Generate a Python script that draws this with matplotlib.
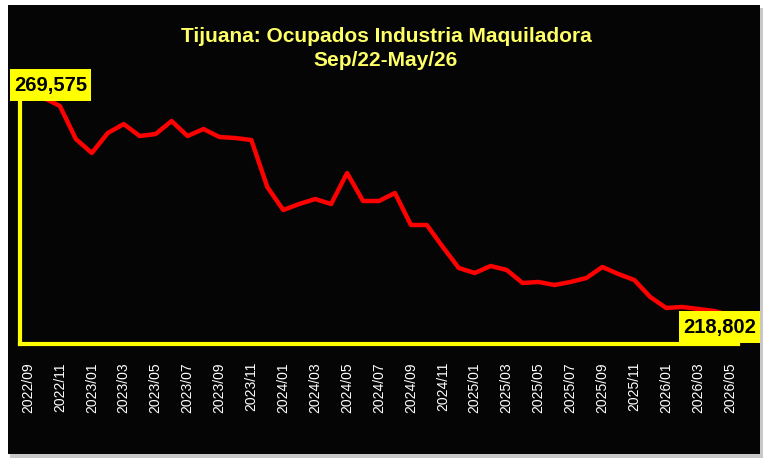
import numpy as np
import matplotlib
matplotlib.use("Agg")
import matplotlib.pyplot as plt
import matplotlib.patches as patches

# ── data (monthly, Sep/22 → May/26) ───────────────────────────────────────────
months = [f"{y}/{m:02d}" for y in range(2022, 2027) for m in range(1, 13)]
months = months[months.index("2022/09"):months.index("2026/05") + 1]

ocupados = [
    269575, 268900, 267040, 259420, 256190, 260800, 262880, 260110, 260570,
    263570, 260110, 261730, 259880, 259650, 259190, 248340, 243030, 244420,
    245570, 244420, 251570, 245110, 245110, 246960, 239570, 239570, 234490,
    229650, 228490, 230110, 229190, 226190, 226420, 225720, 226420, 227340,
    229880, 228260, 226880, 222950, 220420, 220650, 220190, 219720, 218802,
]
tick_labels = months[::2]

# ── palette ───────────────────────────────────────────────────────────────────
_BG = "#050505"
_YELLOW = "#FFFF00"
_TITLE = "#FFFF66"
_RED = "#FF0000"

W, H = 769, 468
fig = plt.figure(figsize=(W / 100, H / 100), dpi=100)
fig.patch.set_facecolor("white")


def _px_rect(x0, y0, x1, y1, **kw):
    """Rectangle given in pixel coords (origin top-left)."""
    return patches.Rectangle((x0 / W, 1 - y1 / H), (x1 - x0) / W, (y1 - y0) / H,
                             transform=fig.transFigure, **kw)


# black panel with a faint shadow
fig.patches.append(_px_rect(10, 8, 763, 458, facecolor="#C8C8C8",
                            edgecolor="none", zorder=-2))
fig.patches.append(_px_rect(8, 5, 760, 454, facecolor=_BG,
                            edgecolor="none", zorder=-1))

# plot area in pixel coords: x 20→738, y 72→344
ax = fig.add_axes([20 / W, 1 - 344 / H, 718 / W, 272 / H])
ax.set_zorder(1)
ax.set_facecolor("none")

x = np.arange(len(ocupados))
ax.plot(x, ocupados, color=_RED, linewidth=3.2, solid_joinstyle="round", zorder=3)

ax.set_xlim(-0.5, len(ocupados) - 0.5)
ax.set_ylim(212100, 274890)
ax.set_xticks(x[::2])
ax.set_xticklabels(tick_labels, rotation=90, color="white", fontsize=10,
                   family="Liberation Sans")
ax.tick_params(axis="x", length=0, pad=13)
ax.set_yticks([])

for side in ("top", "right"):
    ax.spines[side].set_visible(False)
for side in ("left", "bottom"):
    ax.spines[side].set_color(_YELLOW)
    ax.spines[side].set_linewidth(3)

# end-point value boxes (drawn over the axes)
for (x0, y0, x1, y1), val in (((10, 69, 91, 101), ocupados[0]),
                              ((679, 311, 760, 343), ocupados[-1])):
    fig.patches.append(_px_rect(x0, y0, x1, y1, facecolor=_YELLOW,
                                edgecolor="none", zorder=5))
    fig.text((x0 + x1) / 2 / W, 1 - ((y0 + y1) / 2 + 1) / H, f"{val:,}",
             ha="center", va="center", fontsize=14.5, fontweight="bold",
             color="black", family="Liberation Sans", zorder=6)

# title
fig.text(386 / W, 1 - 37 / H, "Tijuana: Ocupados Industria Maquiladora",
         ha="center", va="center", fontsize=15, fontweight="bold",
         color=_TITLE, family="Liberation Sans")
fig.text(386 / W, 1 - 60 / H, "Sep/22-May/26",
         ha="center", va="center", fontsize=15, fontweight="bold",
         color=_TITLE, family="Liberation Sans")

fig.savefig("out.png", dpi=100, facecolor=fig.get_facecolor())
